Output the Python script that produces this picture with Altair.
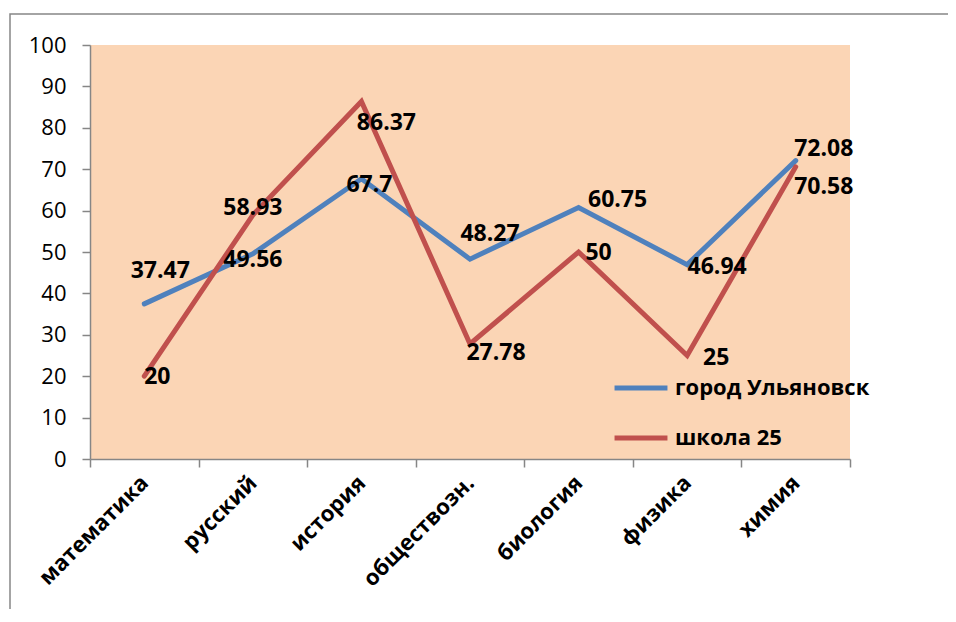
import altair as alt
import pandas as pd

subjects = ["математика", "русский", "история", "обществозн.", "биология", "физика", "химия"]
series_names = ["город Ульяновск", "школа 25"]
city = [37.47, 49.56, 67.7, 48.27, 60.75, 46.94, 72.08]
school = [20, 58.93, 86.37, 27.78, 50, 25, 70.58]
# label offsets (pixels from the point)
city_dx = [16, 0, 8, 20, 39, 30, 28]
city_dy = [-33, 6, 6, -25, -7, 2, -12]
school_dx = [13, 0, 25, 26, 20, 29, 28]
school_dy = [1, -7, 22, 9, 1, 2, 20]
y_ticks = list(range(0, 101, 10))

W, H = 760, 414

rows = []
for name, vals, dxs, dys in [(series_names[0], city, city_dx, city_dy),
                             (series_names[1], school, school_dx, school_dy)]:
    for s, v, dx, dy in zip(subjects, vals, dxs, dys):
        rows.append({"subject": s, "value": v, "series": name,
                     "label": f"{v:g}", "dx": dx, "dy": dy})
df = pd.DataFrame(rows)

FONT = "Open Sans"
GRAY = "#868686"

x_enc = alt.X("subject:N", sort=subjects, title=None,
              scale=alt.Scale(paddingInner=0, paddingOuter=0),
              axis=alt.Axis(tickBand="extent", labelAngle=-45, labelAlign="right",
                            labelBaseline="middle", labelPadding=12,
                            labelFont=FONT, labelFontSize=22, labelFontWeight="bold",
                            labelColor="black", domainColor=GRAY, domainWidth=1.5,
                            tickColor=GRAY, tickWidth=1.5, tickSize=8, grid=False))
y_scale = alt.Scale(domain=[0, 100], nice=False)
y_enc = alt.Y("value:Q", title=None, scale=y_scale,
              axis=alt.Axis(values=y_ticks, labelFont=FONT, labelFontSize=22,
                            labelColor="black", labelPadding=16,
                            domainColor=GRAY, domainWidth=1.5,
                            tickColor=GRAY, tickWidth=1.5, tickSize=8, grid=False))

color_enc = alt.Color("series:N", sort=series_names,
                      scale=alt.Scale(domain=series_names, range=["#4F81BD", "#C0504D"]),
                      legend=alt.Legend(title=None, orient="none", legendX=522, legendY=314,
                                        symbolType="stroke", symbolSize=2800,
                                        symbolStrokeWidth=5, labelFont=FONT,
                                        labelFontSize=22, labelFontWeight="bold",
                                        labelColor="black", labelOffset=5, labelLimit=0,
                                        rowPadding=10, padding=0))

border = alt.Chart(alt.Data(values=[{"a": 1}])).mark_rect(
    fillOpacity=0, stroke=GRAY, strokeWidth=1.5
).encode(x=alt.value(-80), x2=alt.value(1000), y=alt.value(-31), y2=alt.value(700))

lines = alt.Chart(df).mark_line(strokeWidth=5, strokeCap="round").encode(
    x=x_enc, y=y_enc, color=color_enc)

labels = alt.Chart(df).transform_calculate(
    xo=f"datum.dx + {W / len(subjects) / 2}",
    ly=f"datum.value - datum.dy * 100 / {H}",
).mark_text(
    font=FONT, fontSize=23, fontWeight="bold", color="black",
    align="center", baseline="middle"
).encode(
    x=alt.X("subject:N", sort=subjects),
    y=alt.Y("ly:Q", scale=y_scale),
    xOffset=alt.XOffset("xo:Q", scale=None),
    text="label:N")

chart = alt.layer(border, lines, labels).properties(
    width=W, height=H,
    autosize=alt.AutoSizeParams(type="none"),
    padding={"left": 82, "top": 37, "right": 98, "bottom": 150},
    background="white",
).configure_view(fill="#FBD5B5", stroke=None)

chart.save("out.html", embed_options={"renderer": "svg", "actions": False})
